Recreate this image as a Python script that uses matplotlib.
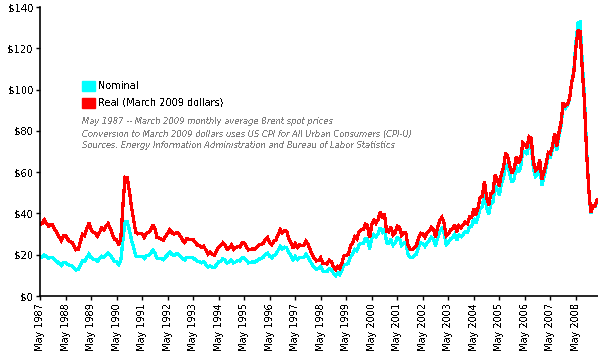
import matplotlib
matplotlib.use("Agg")
import matplotlib.pyplot as plt
import numpy as np

# Monthly Brent spot prices, May 1987 - March 2009
start_year = 1987
start_month = 5
nominal = [
    # 1987 May-Dec
    18.6, 18.9, 19.9, 19.0, 18.3, 18.8, 18.7, 17.4,
    # 1988
    16.7, 15.7, 14.7, 16.1, 16.3, 15.3, 14.7, 14.6, 13.5, 12.6, 12.8, 14.9,
    # 1989
    17.0, 16.7, 18.6, 20.3, 18.6, 17.8, 17.8, 16.9, 18.0, 19.3, 18.8, 20.0,
    # 1990
    21.0, 19.9, 18.3, 16.6, 16.6, 15.2, 17.2, 27.2, 35.9, 36.0, 32.1, 27.3,
    # 1991
    23.6, 19.5, 19.1, 19.2, 19.2, 18.2, 19.4, 19.8, 20.5, 22.2, 21.1, 18.4,
    # 1992
    18.2, 18.1, 17.6, 18.9, 19.9, 21.2, 20.2, 19.7, 20.3, 20.3, 19.2, 18.2,
    # 1993
    17.5, 18.6, 18.6, 18.6, 18.5, 17.6, 16.8, 16.8, 16.1, 16.6, 15.3, 13.9,
    # 1994
    14.6, 13.9, 13.7, 15.1, 16.5, 16.9, 18.1, 17.3, 15.9, 16.4, 17.4, 16.0,
    # 1995
    16.5, 17.1, 17.0, 18.4, 18.4, 17.3, 16.0, 16.3, 16.5, 16.3, 17.1, 17.9,
    # 1996
    18.0, 18.7, 20.1, 20.8, 19.2, 18.5, 19.7, 20.2, 22.2, 24.0, 22.8, 23.7,
    # 1997
    23.4, 20.9, 19.5, 17.6, 19.1, 17.7, 18.6, 18.5, 18.5, 20.2, 19.1, 17.1,
    # 1998
    15.1, 13.8, 13.0, 13.3, 14.2, 12.1, 12.0, 11.9, 13.3, 12.8, 11.0, 9.8,
    # 1999
    11.1, 10.3, 12.5, 15.2, 15.4, 15.8, 19.1, 20.3, 22.6, 21.9, 24.6, 25.5,
    # 2000
    25.5, 27.8, 27.5, 22.8, 27.7, 29.8, 28.7, 30.2, 33.1, 31.0, 32.6, 25.7,
    # 2001
    25.6, 27.5, 24.5, 25.7, 28.3, 27.9, 24.6, 25.7, 25.6, 20.5, 18.8, 18.7,
    # 2002
    19.4, 20.3, 23.7, 25.7, 25.4, 24.1, 25.7, 26.7, 28.4, 27.5, 24.3, 28.3,
    # 2003
    31.2, 32.8, 30.6, 25.0, 25.9, 27.7, 28.4, 29.9, 27.1, 29.6, 28.8, 29.8,
    # 2004
    31.3, 30.9, 33.6, 33.6, 37.6, 35.2, 38.2, 42.7, 43.2, 49.8, 43.1, 39.6,
    # 2005
    44.5, 45.5, 53.1, 51.9, 48.7, 54.4, 57.5, 64.0, 62.9, 58.5, 55.2, 56.9,
    # 2006
    63.0, 60.2, 62.1, 70.3, 69.8, 68.6, 73.7, 73.2, 62.0, 57.8, 58.8, 62.5,
    # 2007
    53.7, 57.6, 62.1, 67.5, 67.2, 71.1, 76.9, 70.8, 77.2, 82.3, 92.4, 90.9,
    # 2008
    92.2, 95.0, 103.6, 109.1, 122.8, 132.3, 132.7, 113.2, 97.2, 71.6, 52.5, 40.0,
    # 2009 Jan-Mar
    43.4, 43.3, 46.5,
]
real = [
    # 1987 May-Dec
    34.7, 35.2, 36.9, 35.2, 33.9, 34.6, 34.4, 32.1,
    # 1988
    30.6, 28.6, 26.8, 29.1, 29.3, 27.6, 26.3, 26.1, 24.0, 22.4, 22.7, 26.4,
    # 1989
    30.0, 29.3, 32.5, 35.3, 32.2, 30.7, 30.5, 29.0, 30.8, 32.9, 32.0, 33.9,
    # 1990
    35.1, 33.0, 30.2, 27.3, 27.3, 24.8, 28.0, 43.9, 57.5, 57.3, 51.0, 43.4,
    # 1991
    37.3, 30.9, 30.1, 30.2, 30.1, 28.4, 30.4, 30.8, 31.9, 34.5, 32.7, 28.4,
    # 1992
    28.0, 27.7, 27.0, 28.9, 30.3, 32.2, 30.8, 29.9, 30.6, 30.5, 28.8, 27.2,
    # 1993
    26.0, 27.7, 27.5, 27.4, 27.3, 25.9, 24.7, 24.6, 23.5, 24.2, 22.2, 20.2,
    # 1994
    21.3, 20.1, 19.8, 21.8, 23.7, 24.3, 25.8, 24.7, 22.6, 23.3, 24.7, 22.6,
    # 1995
    23.4, 24.1, 23.8, 25.7, 25.7, 24.1, 22.3, 22.6, 22.9, 22.5, 23.7, 24.8,
    # 1996
    24.8, 25.6, 27.4, 28.3, 25.9, 25.0, 26.6, 27.3, 29.8, 32.2, 30.6, 31.7,
    # 1997
    31.3, 27.9, 25.9, 23.4, 25.3, 23.6, 24.7, 24.5, 24.5, 26.7, 25.2, 22.6,
    # 1998
    19.9, 18.2, 17.0, 17.4, 18.5, 15.7, 15.7, 15.5, 17.3, 16.6, 14.2, 12.7,
    # 1999
    14.3, 13.3, 16.1, 19.5, 19.7, 20.2, 24.3, 25.8, 28.6, 27.6, 31.0, 32.2,
    # 2000
    32.1, 34.8, 34.1, 28.2, 34.4, 36.7, 35.3, 37.1, 40.6, 37.8, 39.7, 31.4,
    # 2001
    31.1, 33.3, 29.6, 30.8, 33.9, 33.3, 29.5, 30.8, 30.6, 24.6, 22.6, 22.5,
    # 2002
    23.3, 24.3, 28.2, 30.4, 30.0, 28.5, 30.4, 31.4, 33.4, 32.3, 28.6, 33.3,
    # 2003
    36.5, 38.1, 35.4, 29.0, 30.0, 32.0, 32.8, 34.4, 31.1, 34.1, 33.1, 34.4,
    # 2004
    35.9, 35.2, 38.2, 38.0, 42.2, 39.4, 42.9, 47.9, 48.3, 55.4, 47.9, 44.1,
    # 2005
    49.6, 50.4, 58.5, 56.7, 53.2, 59.4, 62.6, 69.3, 67.3, 62.5, 59.5, 61.5,
    # 2006
    67.6, 64.5, 66.2, 74.3, 73.4, 71.9, 77.1, 76.4, 64.9, 60.9, 61.9, 65.8,
    # 2007
    56.4, 60.2, 64.3, 69.5, 68.9, 72.8, 78.8, 72.5, 78.9, 83.9, 93.6, 92.1,
    # 2008
    92.9, 95.5, 103.2, 108.0, 120.5, 128.4, 128.3, 109.8, 94.4, 70.1, 52.5, 40.4,
    # 2009 Jan-Mar
    43.8, 43.4, 46.5,
]
tick_years = list(range(1987, 2009))
tick_labels = ["May %d" % y for y in tick_years]
y_ticks = [0, 20, 40, 60, 80, 100, 120, 140]
y_tick_labels = ["$%d" % v for v in y_ticks]
series_names = ["Nominal", "Real (March 2009 dollars)"]
series_colors = ["#00ffff", "#ff0000"]
notes = [
    "May 1987 -- March 2009 monthly average Brent spot prices",
    "Conversion to March 2009 dollars uses US CPI for All Urban Consumers (CPI-U)",
    "Sources: Energy Information Administration and Bureau of Labor Statistics",
]

plt.rcParams['text.antialiased'] = False
plt.rcParams['font.family'] = ['DejaVu Sans']

months = np.arange(len(nominal))
x = start_year + (start_month - 1) / 12.0 + months / 12.0

fig = plt.figure(figsize=(5.98, 3.53), dpi=100)
ax = fig.add_axes([40 / 598, 1 - 296 / 353, 558 / 598, 289 / 353])

ax.plot(x, nominal, color=series_colors[0], lw=1.6, antialiased=False, solid_joinstyle='miter')
ax.plot(x, real, color=series_colors[1], lw=1.6, antialiased=False, solid_joinstyle='miter')

ax.set_ylim(0, 140)
ax.set_xlim(start_year + (start_month - 1) / 12.0, 2009.2)
ax.set_yticks(y_ticks)
ax.set_yticklabels(y_tick_labels, fontsize=7.2)
ax.set_xticks([y + 4 / 12.0 for y in tick_years])
ax.set_xticklabels(tick_labels, rotation=90, fontsize=7)
ax.tick_params(axis='both', direction='out', length=3, width=1, pad=2, colors='black')
for s in ['top', 'right']:
    ax.spines[s].set_visible(False)
for s in ['left', 'bottom']:
    ax.spines[s].set_linewidth(1.2)

# Legend made of squares and text
sq_w, sq_h = 13 / 598, 10 / 353
for i, (name, col) in enumerate(zip(series_names, series_colors)):
    ytop = 81 + i * 17
    fig.patches.append(plt.Rectangle((82 / 598, 1 - (ytop + 10) / 353), sq_w, sq_h,
                                     transform=fig.transFigure, color=col, figure=fig))
    fig.text(98 / 598, 1 - (ytop + 5) / 353, name, fontsize=7, va='center', ha='left')

for i, line in enumerate(notes):
    fig.text(82 / 598, 1 - (122 + i * 12) / 353, line, fontsize=6, style='italic',
             color='#808080', va='center', ha='left')

fig.savefig("out.png", dpi=100)
